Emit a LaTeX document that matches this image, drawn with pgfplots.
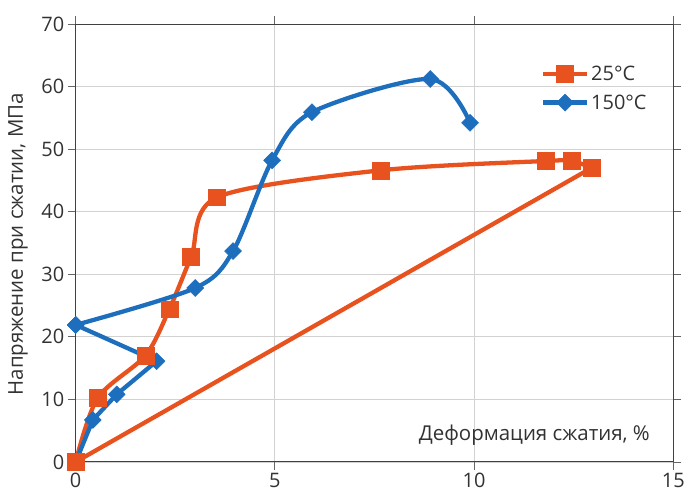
\documentclass[border=0pt]{standalone}
\usepackage{fontspec}
\setmainfont{Open Sans}
\usepackage{pgfplots}
\pgfplotsset{compat=1.18}
\definecolor{org}{RGB}{232,82,30}
\definecolor{blu}{RGB}{30,110,190}
\definecolor{txt}{RGB}{50,50,50}
\begin{document}
\begin{tikzpicture}
\begin{axis}[
  scale only axis, width=599pt, height=439pt,
  xmin=0, xmax=15, ymin=0, ymax=70,
  xtick={0,5,10,15}, ytick={0,10,...,70},
  grid=major, grid style={gray!35, line width=0.8pt},
  axis line style={black!75, line width=0.9pt},
  tick align=outside, major tick length=8pt,
  tick style={black!60, line width=0.8pt},
  ticklabel style={font=\fontsize{20}{22}\selectfont, text=txt},
  /pgf/number format/assume math mode=true,
  clip=false,
  legend style={at={(axis cs:11.6,64)}, anchor=north west, draw=none, fill=none,
    font=\fontsize{20}{22}\selectfont, text=txt, row sep=9pt},
  legend cell align=left,
  legend image code/.code={\draw[mark repeat=2,mark phase=2] plot coordinates {(0pt,0pt) (22pt,0pt) (44pt,0pt)};},
]
\addplot[org, line width=4.3pt, smooth, tension=0.5, mark=square*, mark size=8.5pt, mark options={solid, line width=0.5pt}]
 coordinates {(0,0) (0.55,10.2) (1.75,17.0) (2.35,24.4) (2.9,32.8) (3.55,42.3) (7.65,46.6) (11.8,48.1) (12.45,48.1) (12.95,47.0)};
\addlegendentry{25°C}
\addplot[blu, line width=4.3pt, smooth, tension=0.5, mark=square*, mark size=6pt, mark options={solid, line width=0.5pt, rotate=45}]
 coordinates {(0,21.9) (3.0,27.8) (3.95,33.7) (4.93,48.2) (5.93,55.9) (8.9,61.2) (9.9,54.2)};
\addlegendentry{150°C}
\addplot[blu, line width=4.3pt, line join=round, mark=square*, mark size=6pt, mark options={solid, line width=0.5pt, rotate=45}, forget plot]
 coordinates {(0,0) (0.43,6.7) (1.03,10.8) (2.03,16.1) (0,21.9)};
\addplot[org, line width=4.3pt, forget plot] coordinates {(12.95,47.0) (0,0)};
\addplot[org, only marks, mark=square*, mark size=8.5pt, forget plot] coordinates {(0,0) (0.55,10.2) (1.75,17.0) (12.95,47.0)};
\node[anchor=east, font=\fontsize{20.5}{22}\selectfont, text=txt] at (axis cs:14.5,4.3) {Деформация сжатия, \%};
\node[rotate=90, font=\fontsize{20.5}{22}\selectfont, text=txt] at (axis cs:-1.45,34.8) {Напряжение при сжатии, МПа};
\path (axis cs:-1.9,-6.22) rectangle (axis cs:15.33,73.83);
\end{axis}
\end{tikzpicture}
\end{document}
